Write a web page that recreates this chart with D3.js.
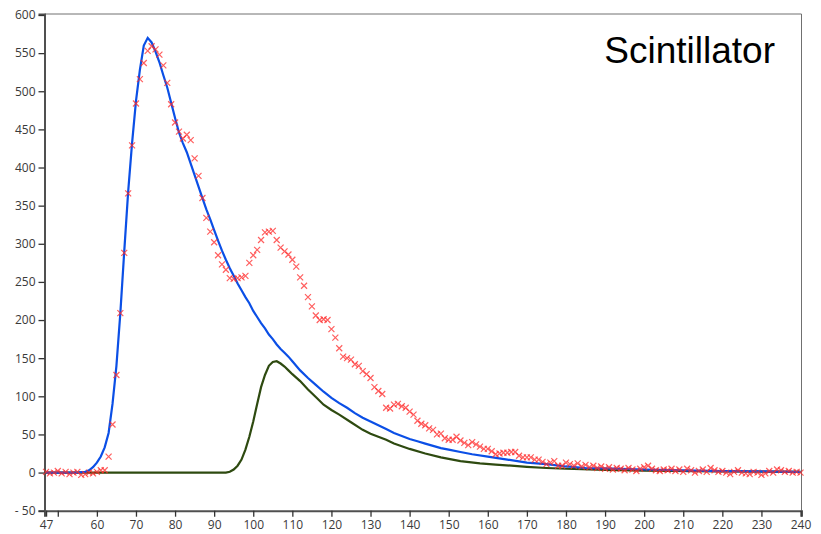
<!DOCTYPE html>
<html>
<head>
<meta charset="utf-8">
<script src="https://cdn.jsdelivr.net/npm/d3@7"></script>
<style>
  body { margin: 0; background: #fff; }
  svg { display: block; }
  .tick text { font-family: 'Open Sans', sans-serif; font-size: 12px; fill: #3a3a3a; }
</style>
</head>
<body>
<div id="chart"></div>
<script>
const dimensions = { width: 821, height: 534 }

// measured points (red crosses), one per time bin
const measuredStart = 47
const measured = [
  1, -1, 0, 2, -1, 1, -2, 0, 1, -3, -2, 0, -1, 1, 3, 3,
  21, 63, 128, 209, 288, 366, 429, 484, 516, 537, 553, 559, 555, 548,
  534, 511, 483, 459, 447, 438, 443, 436, 412, 389, 360, 334, 316, 302,
  285, 273, 266, 255, 254, 255, 256, 258, 275, 285, 292, 305, 315, 316,
  317, 305, 295, 290, 286, 279, 270, 256, 245, 230, 218, 206, 200, 201,
  200, 188, 177, 163, 152, 150, 148, 142, 140, 133, 129, 124, 112, 107,
  103, 85, 84, 89, 90, 87, 85, 80, 76, 68, 64, 62, 58, 56,
  50, 51, 45, 43, 43, 47, 42, 39, 36, 40, 37, 34, 31, 31,
  28, 24, 25, 26, 26, 27, 27, 22, 20, 20, 20, 17, 17, 14,
  11, 13, 15, 9, 9, 13, 11, 9, 12, 8, 10, 7, 9, 6,
  8, 5, 7, 4, 6, 5, 3, 6, 4, 2, 5, 7, 9, 5,
  3, 2, 4, 3, 5, 2, 4, 1, 5, 3, 0, 2, 4, 1,
  6, 3, 1, 2, 0, -2, 1, 3, 0, -1, -2, 1, 0, -3,
  -1, 2, 0, 4, 3, 1, 2, 0, 1, 0
]

// total model (blue)
const totalX = [47, 50, 55, 56, 57, 58, 59, 60, 61, 62, 63, 64, 65, 66, 67, 68, 69, 70,
  71, 72, 73, 74, 75, 76, 77, 78, 79, 80, 81, 82, 83, 84, 85, 86, 87, 88, 89, 90,
  91, 92, 93, 94, 95, 96, 97, 98, 99, 100, 101, 102, 103, 104, 105, 106, 107, 108,
  109, 110, 112, 114, 116, 118, 120, 122, 124, 126, 128, 130, 132, 134, 136, 138,
  140, 142, 144, 146, 148, 150, 153, 156, 160, 165, 170, 175, 180, 185, 190, 200,
  210, 220, 230, 240]
const totalY = [0, 0, 0, 0.5, 1, 3, 7, 13, 21, 33, 52, 90, 140, 209, 290, 368, 432, 487,
  528, 560, 570, 564, 552, 538, 521, 505, 485, 465, 446, 432, 420, 405, 390, 375, 360, 345, 332, 318,
  304, 291, 279, 268, 258, 248, 239, 230, 222, 212, 204, 196, 189, 181, 175, 168, 162, 157,
  152, 146, 134, 124, 115, 106, 98, 91, 85, 78, 72, 67, 62, 57, 52, 48,
  44, 41, 38, 35, 32, 30, 27, 24, 21, 17, 13, 11, 8, 6, 5.5, 4,
  3, 2, 1.5, 1]

// delayed component (green)
const delayedX = [47, 93, 94, 95, 96, 97, 98, 99, 100, 101, 102, 103, 104, 105, 106, 107,
  108, 109, 110, 112, 114, 116, 118, 120, 122, 125, 128, 130, 132, 134, 136, 140, 144,
  148, 153, 158, 162, 166, 170, 175, 180, 190, 200, 220, 240]
const delayedY = [0, 0, 1, 4, 9, 17, 30, 47, 67, 90, 112, 128, 140, 145, 146, 143,
  139, 134, 129, 120, 109, 99, 89, 82, 76, 66, 56, 51, 47, 43, 38, 31, 25,
  20, 15, 12, 10.5, 9, 7.5, 6, 5, 3.5, 2.5, 1.5, 1]

const xTicks = [47, 50, 60, 70, 80, 90, 100, 110, 120, 130, 140, 150, 160, 170, 180, 190, 200, 210, 220, 230, 240]
const yTicks = [-50, 0, 50, 100, 150, 200, 250, 300, 350, 400, 450, 500, 550, 600]

const x = d3.scaleLinear().domain([46.6, 240.25]).range([44.5, 801.5])
const y = d3.scaleLinear().domain([-50, 601.3]).range([510.7, 14])

const svg = d3.select('#chart')
  .append('svg')
  .attr('width', dimensions.width)
  .attr('height', dimensions.height)

// frame
svg.append('path')
  .attr('d', `M${x.range()[0]},${y.range()[1]}H${x.range()[1]}V${y.range()[0]}`)
  .attr('fill', 'none')
  .attr('stroke', '#707070')
  .attr('stroke-width', 1)

const xAxis = svg.append('g')
  .attr('transform', `translate(0,${y.range()[0]})`)
  .call(d3.axisBottom(x).tickValues(xTicks).tickSize(6).tickPadding(4)
    .tickFormat(d => d === 50 ? '' : d))

const yAxis = svg.append('g')
  .attr('transform', `translate(${x.range()[0]},0)`)
  .call(d3.axisLeft(y).tickValues(yTicks).tickSize(6).tickPadding(3)
    .tickFormat(d => d < 0 ? '- ' + Math.abs(d) : d))

;[xAxis, yAxis].forEach(a => {
  a.select('.domain').attr('stroke', '#505050').attr('stroke-width', 2)
  a.selectAll('.tick line').attr('stroke', '#333').attr('stroke-width', 1.3)
})

const line = d3.line()
  .x(d => x(d[0]))
  .y(d => y(d[1]))

svg.append('path')
  .datum(delayedX.map((d, i) => [d, delayedY[i]]))
  .attr('fill', 'none')
  .attr('stroke', '#2e4a10')
  .attr('stroke-width', 2.2)
  .attr('d', line)

svg.append('path')
  .datum(totalX.map((d, i) => [d, totalY[i]]))
  .attr('fill', 'none')
  .attr('stroke', '#0b4fe6')
  .attr('stroke-width', 2.2)
  .attr('d', line)

const s = 3
svg.append('g')
  .selectAll('path')
  .data(measured.map((v, i) => [measuredStart + i, v]))
  .join('path')
  .attr('transform', d => `translate(${x(d[0])},${y(d[1])})`)
  .attr('d', `M${-s},${-s}L${s},${s}M${-s},${s}L${s},${-s}`)
  .attr('stroke', '#ff2a2a')
  .attr('stroke-opacity', 0.75)
  .attr('stroke-width', 1.2)
  .attr('fill', 'none')

svg.append('text')
  .attr('x', 775)
  .attr('y', 63)
  .attr('text-anchor', 'end')
  .attr('font-family', "'Liberation Sans', Arial, sans-serif")
  .attr('font-size', 37)
  .attr('fill', '#000')
  .text('Scintillator')
</script>
</body>
</html>
